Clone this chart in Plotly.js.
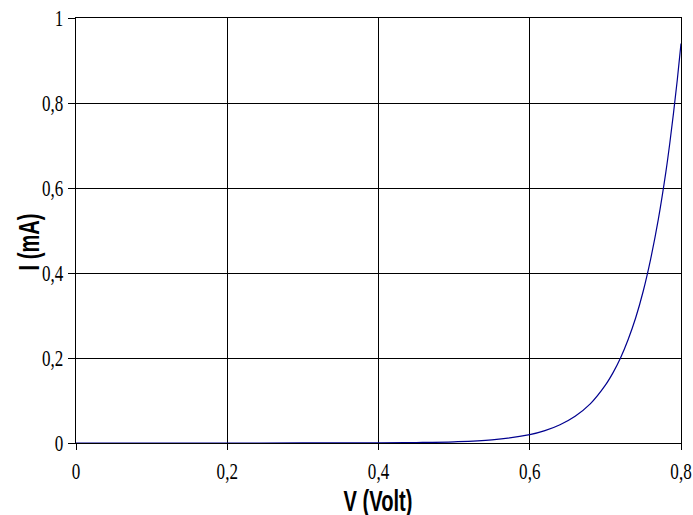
<!DOCTYPE html>
<html>
<head>
<meta charset="utf-8">
<script src="https://cdn.plot.ly/plotly-3.0.1.min.js"></script>
<style>
html,body{margin:0;padding:0;background:#fff;}
#chart{width:693px;height:515px;}
#chart .xtick text, #chart .ytick text, #chart .xtick tspan, #chart .ytick tspan { font-family: 'Liberation Serif', 'DejaVu Serif', serif !important; }
#chart .g-xtitle text, #chart .g-ytitle text { font-family: 'Liberation Sans', Arial, sans-serif !important; font-weight: bold !important; }
</style>
</head>
<body>
<div id="chart"></div>
<script>
// Diode I-V curve
var voltage = [0, 0.1, 0.2, 0.3, 0.4, 0.45, 0.5, 0.55, 0.6, 0.62, 0.64, 0.66, 0.68, 0.70, 0.71, 0.72, 0.73, 0.74, 0.75, 0.76, 0.77, 0.78, 0.785, 0.79, 0.795, 0.8];
var currentMA = [0, 0, 0, 0.0001, 0.0004, 0.0011, 0.0028, 0.0075, 0.0196, 0.029, 0.043, 0.063, 0.092, 0.136, 0.165, 0.2, 0.243, 0.294, 0.357, 0.434, 0.526, 0.638, 0.703, 0.775, 0.853, 0.94];
var xTicks = [0, 0.2, 0.4, 0.6, 0.8];
var yTicks = [0, 0.2, 0.4, 0.6, 0.8, 1];
var xTitle = 'V (Volt)';
var yTitle = 'I (mA)';

function tickFont() { return {family: 'Liberation Serif', size: 24, color: '#000'}; }
function titleFont() { return {family: 'Liberation Sans', size: 30, color: '#000', weight: 'bold'}; }

var trace = {
  x: voltage, y: currentMA, type: 'scatter', mode: 'lines',
  line: {color: '#00008f', width: 1.2, shape: 'spline'},
  hoverinfo: 'skip'
};

var layout = {
  width: 693, height: 515,
  margin: {l: 76, r: 11.5, t: 18, b: 71.5},
  paper_bgcolor: '#fff', plot_bgcolor: '#fff',
  separators: ',.',
  showlegend: false,
  xaxis: {
    range: [0, 0.8], tickvals: xTicks, tickformat: '.1~f',
    showgrid: true, gridcolor: '#000', gridwidth: 1,
    zeroline: false, showline: true, linecolor: '#000', linewidth: 1, mirror: true,
    ticks: 'outside', ticklen: 6, tickcolor: '#000', tickwidth: 1,
    ticklabeloverflow: 'allow',
    tickfont: tickFont(),
    title: {text: xTitle, font: titleFont()}
  },
  yaxis: {
    range: [0, 1], tickvals: yTicks, tickformat: '.1~f',
    showgrid: true, gridcolor: '#000', gridwidth: 1,
    zeroline: false, showline: true, linecolor: '#000', linewidth: 1, mirror: true,
    ticks: 'outside', ticklen: 7, tickcolor: '#000', tickwidth: 1,
    ticklabeloverflow: 'allow',
    tickfont: tickFont(),
    title: {text: yTitle, font: titleFont()}
  }
};

function forceFont(t, fam, size) {
  [t].concat(Array.prototype.slice.call(t.querySelectorAll('tspan'))).forEach(function (el) {
    el.style.setProperty('font-family', fam, 'important');
    if (size) el.style.setProperty('font-size', size + 'px', 'important');
  });
}
// The reference text is tall and narrow: keep real text, squeeze it horizontally.
function squeeze(t, factor) {
  var w = t.getAttribute('data-w');
  if (!w) {
    t.removeAttribute('textLength');
    w = t.getComputedTextLength();
    t.setAttribute('data-w', w);
  }
  t.setAttribute('textLength', (parseFloat(w) * factor).toFixed(2));
  t.setAttribute('lengthAdjust', 'spacingAndGlyphs');
}
function moveTo(t, cx, cy) {
  var r = t.getBoundingClientRect();
  var dx = cx - (r.left + r.width / 2), dy = cy - (r.top + r.height / 2);
  if (Math.abs(dx) < 0.5 && Math.abs(dy) < 0.5) return;
  var tr = t.getAttribute('transform') || '';
  t.setAttribute('transform', 'translate(' + dx.toFixed(1) + ',' + dy.toFixed(1) + ') ' + tr);
}
function condense(gd) {
  gd.querySelectorAll('.xtick text, .ytick text').forEach(function (t) {
    forceFont(t, "'Liberation Serif', 'DejaVu Serif', serif", 24);
    squeeze(t, 0.71);
  });
  var xt = gd.querySelector('.g-xtitle text');
  if (xt) { squeeze(xt, 0.67); moveTo(xt, 378, 500); }
  var yt = gd.querySelector('.g-ytitle text');
  if (yt) { squeeze(yt, 0.67); moveTo(yt, 28, 242); }
}

Plotly.newPlot('chart', [trace], layout, {staticPlot: true, displayModeBar: false}).then(function (gd) {
  condense(gd);
  gd.on('plotly_afterplot', function () { condense(gd); });
});
</script>
</body>
</html>
